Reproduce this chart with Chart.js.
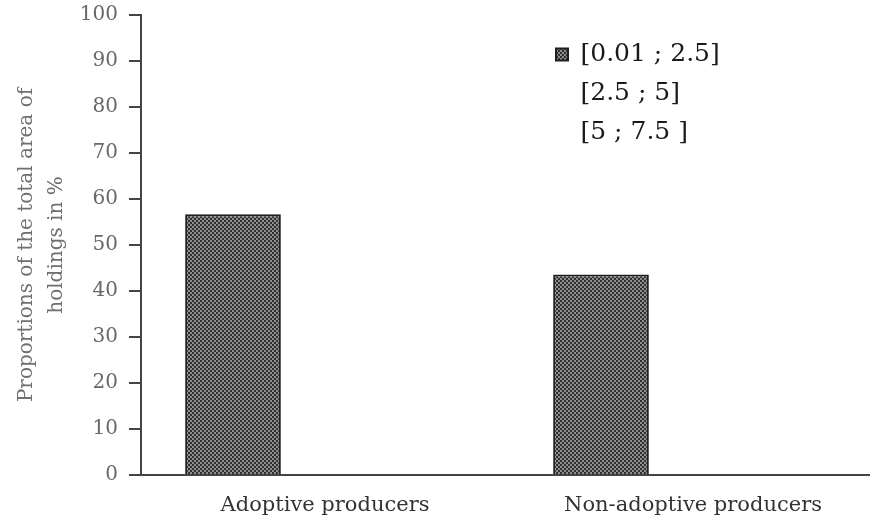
<!DOCTYPE html>
<html>
<head>
<meta charset="utf-8">
<script src="https://cdn.jsdelivr.net/npm/chart.js@4"></script>
<style>
  html, body { margin: 0; padding: 0; background: #fff; overflow: hidden; width: 870px; height: 522px; }
  #chart { position: absolute; left: -10px; top: 0; }
</style>
</head>
<body>
<canvas id="chart" width="900" height="522"></canvas>
<script>
var categories = ['Adoptive producers', 'Non-adoptive producers'];
var seriesNames = ['[0.01 ; 2.5]', '[2.5 ; 5]', '[5 ; 7.5 ]'];
var small = [56.7, 43.6];   // [0.01 ; 2.5]
var medium = [0, 0];        // [2.5 ; 5]
var large = [0, 0];         // [5 ; 7.5]
var yTitle = ['Proportions of the total area of', 'holdings in %'];

// checkered fill like the original bars
function makePattern() {
  var c = document.createElement('canvas');
  c.width = 4; c.height = 4;
  var g = c.getContext('2d');
  g.fillStyle = '#303030';
  g.fillRect(0, 0, 4, 4);
  g.fillStyle = '#8e8e8e';
  g.fillRect(0, 0, 2, 2);
  g.fillRect(2, 2, 2, 2);
  return g.createPattern(c, 'repeat');
}
var pattern = makePattern();

// put the legend at the top right of the plot
var legendMover = {
  id: 'legendMover',
  afterLayout: function(chart) {
    var lg = chart.legend;
    var w = lg.width, h = lg.height;
    lg.left = 552; lg.top = 28;
    lg.right = lg.left + w; lg.bottom = lg.top + h;
  }
};

var ctx = document.getElementById('chart').getContext('2d');
new Chart(ctx, {
  type: 'bar',
  data: {
    labels: categories,
    datasets: [
      { label: seriesNames[0], data: small, backgroundColor: pattern, borderColor: '#1e1e1e', borderWidth: 2 },
      { label: seriesNames[1], data: medium, backgroundColor: 'rgba(0,0,0,0)', borderColor: 'rgba(0,0,0,0)', borderWidth: 0 },
      { label: seriesNames[2], data: large, backgroundColor: 'rgba(0,0,0,0)', borderColor: 'rgba(0,0,0,0)', borderWidth: 0 }
    ]
  },
  options: {
    responsive: false,
    animation: false,
    devicePixelRatio: 1,
    categoryPercentage: 0.75,
    barPercentage: 1.04,
    layout: { padding: { top: 15, right: 13, bottom: 0, left: 0 } },
    plugins: {
      tooltip: { enabled: false },
      legend: {
        position: 'chartArea',
        align: 'start',
        labels: {
          boxWidth: 12,
          boxHeight: 12,
          padding: 14,
          color: '#1a1a1a',
          font: { family: 'DejaVu Serif', size: 25 }
        }
      }
    },
    scales: {
      x: {
        grid: { display: false, drawTicks: false },
        border: { display: true, color: '#444', width: 2 },
        ticks: { color: '#333', padding: 18, font: { family: 'DejaVu Serif', size: 21 } },
        afterFit: function(scale) {
          scale.height = 47;
          scale.paddingLeft = 0; scale.paddingRight = 0;
        }
      },
      y: {
        min: 0,
        max: 100,
        ticks: { stepSize: 10, color: '#686868', padding: 11, font: { family: 'DejaVu Serif', size: 20 } },
        grid: { drawOnChartArea: false, drawTicks: true, tickLength: 12, color: '#444', lineWidth: 2 },
        border: { display: true, color: '#444', width: 2 },
        title: {
          display: true,
          text: yTitle,
          color: '#707070',
          padding: { top: 22, bottom: 0 },
          font: { family: 'DejaVu Serif', size: 20, lineHeight: 1.5 }
        },
        afterFit: function(scale) {
          scale.width = 151;
          scale.paddingTop = 0; scale.paddingBottom = 0;
        }
      }
    }
  },
  plugins: [legendMover]
});
</script>
</body>
</html>
